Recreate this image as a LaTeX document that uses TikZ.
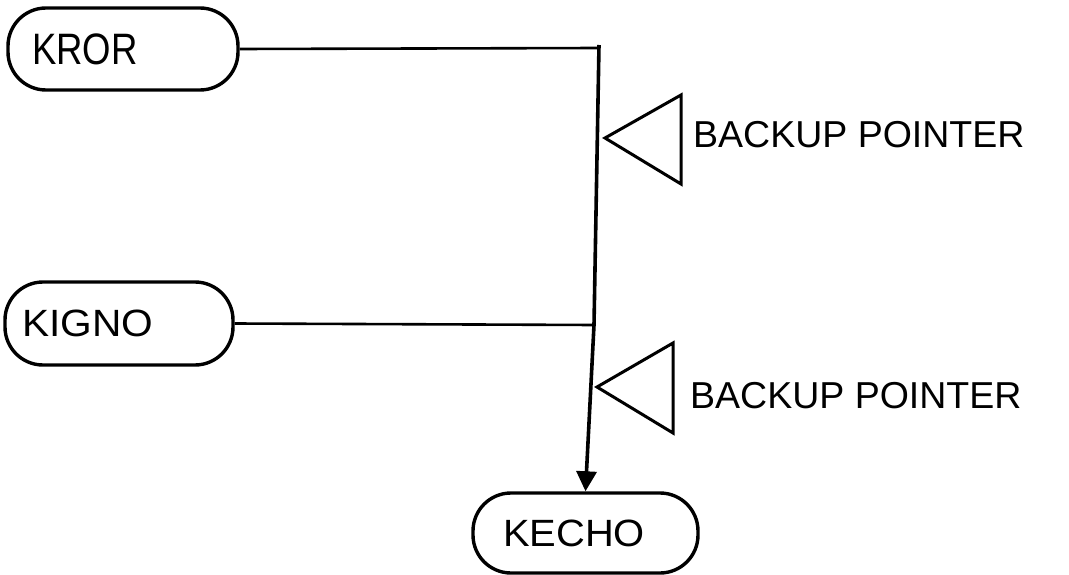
\documentclass[tikz,border=0pt]{standalone}
\usepackage{graphicx}
\usepackage{fontspec}
\setmainfont{Liberation Sans}
\usetikzlibrary{arrows.meta}
\begin{document}
\begin{tikzpicture}[x=1pt,y=-1pt,
  termbox/.style={draw, line width=3.4pt, rounded corners=38pt, inner ysep=0pt, align=left, anchor=center},
  boxfont/.style={font=\fontsize{38}{42}\selectfont},
  ptr/.style={font=\fontsize{37.5}{42}\selectfont, inner sep=0pt},
  wire/.style={line width=2.6pt},
  trunk/.style={line width=3.6pt},
  marker/.style={line width=3pt, line join=miter}
]
\useasboundingbox[fill=white] (0,0) rectangle (1069,575);

% terminal boxes
\node[termbox, boxfont, inner xsep=24pt, text width=182pt, minimum height=82pt] (kror) at (123,49)
  {\fontsize{44}{48}\selectfont\scalebox{0.83}[1]{KROR}};
\node[termbox, boxfont, inner xsep=17pt, text width=194pt, minimum height=83pt] (kigno) at (119,323.5)
  {\scalebox{1.07}[1]{KIGNO}};
\node[termbox, boxfont, inner xsep=30pt, text width=165pt, minimum height=80pt] (kecho) at (585.5,533)
  {\scalebox{1.05}[1]{KECHO}};

% junctions on the trunk
\coordinate (j1) at (599,48);
\coordinate (j2) at (594,325);

% connectors
\draw[wire] (kror.east) -- (j1);
\draw[wire] (kigno.east) -- (j2);
\draw[trunk, -{Triangle[length=20pt,width=20pt]}] ([yshift=3pt]j1) -- (j2) -- (kecho.north);

% backup pointer markers
\draw[marker] (605,138) -- (681,95) -- (681,184) -- cycle;
\draw[marker] (597,387) -- (673,343) -- (673,433) -- cycle;

% labels
\node[ptr, anchor=base west] (bp1) at (693,148) {BACKUP POINTER};
\node[ptr, anchor=base west] (bp2) at (690,408) {BACKUP POINTER};
\end{tikzpicture}
\end{document}
